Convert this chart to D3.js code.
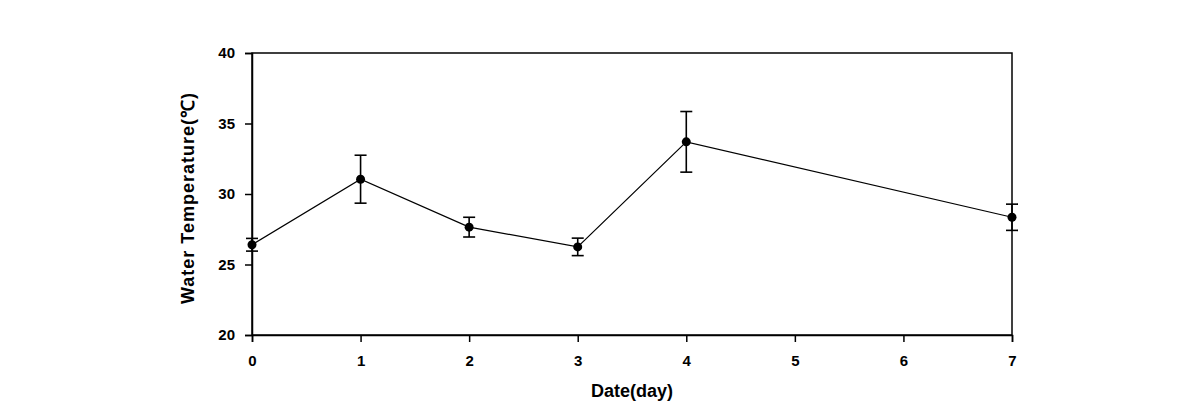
<!DOCTYPE html>
<html><head><meta charset="utf-8">
<script src="https://cdn.jsdelivr.net/npm/d3@7"></script>
<style>body{margin:0;background:#fff;}svg text{font-family:"Liberation Sans",Arial,sans-serif;}</style>
</head><body>
<svg id="c" width="1190" height="420"></svg>
<script>
const days = [0, 1, 2, 3, 4, 7];
const temps = [26.4, 31.05, 27.65, 26.25, 33.7, 28.35];
const errs = [0.45, 1.7, 0.7, 0.62, 2.15, 0.93];
const xTicks = [0, 1, 2, 3, 4, 5, 6, 7];
const yTicks = [20, 25, 30, 35, 40];

const svg = d3.select("#c");
const m = {l: 252, r: 1012, t: 53, b: 335};
const x = d3.scaleLinear().domain([0, 7]).range([m.l, m.r]);
const y = d3.scaleLinear().domain([20, 40]).range([m.b, m.t]);

svg.append("rect").attr("x", m.l).attr("y", m.t).attr("width", m.r - m.l).attr("height", m.b - m.t)
  .attr("fill", "none").attr("stroke", "#000").attr("stroke-width", 1.5);

const xa = svg.append("g").attr("transform", `translate(0,${m.b})`)
  .call(d3.axisBottom(x).tickValues(xTicks).tickSize(7).tickPadding(13).tickFormat(d3.format("d")));
const ya = svg.append("g").attr("transform", `translate(${m.l},0)`)
  .call(d3.axisLeft(y).tickValues(yTicks).tickSize(7).tickPadding(10).tickFormat(d3.format("d")));
[xa, ya].forEach(a => {
  a.select(".domain").attr("stroke-width", 1.5);
  a.selectAll(".tick line").attr("stroke-width", 1.5);
  a.selectAll("text").attr("font-size", 15).attr("font-weight", "bold").attr("fill", "#000")
    .attr("font-family", "'Liberation Sans', Arial, sans-serif");
});

const data = days.map((d, i) => ({d, v: temps[i], e: errs[i]}));

svg.append("path").datum(data)
  .attr("d", d3.line().x(p => x(p.d)).y(p => y(p.v)))
  .attr("fill", "none").attr("stroke", "#000").attr("stroke-width", 1.2);

const eb = svg.append("g").attr("stroke", "#000").attr("stroke-width", 1.6);
data.forEach(p => {
  eb.append("line").attr("x1", x(p.d)).attr("x2", x(p.d)).attr("y1", y(p.v + p.e)).attr("y2", y(p.v - p.e));
  [p.v + p.e, p.v - p.e].forEach(v => {
    eb.append("line").attr("x1", x(p.d) - 6).attr("x2", x(p.d) + 6).attr("y1", y(v)).attr("y2", y(v));
  });
});

svg.append("g").selectAll("circle").data(data).join("circle")
  .attr("cx", p => x(p.d)).attr("cy", p => y(p.v)).attr("r", 4.5).attr("fill", "#000");

svg.append("text").attr("x", (m.l + m.r) / 2).attr("y", 397).attr("text-anchor", "middle")
  .attr("font-size", 18).attr("font-weight", "bold").text("Date(day)");
svg.append("text").attr("transform", `translate(194,${(m.t + m.b) / 2 + 4}) rotate(-90)`)
  .attr("text-anchor", "middle").attr("font-size", 18).attr("font-weight", "bold")
  .attr("letter-spacing", 1)
  .text("Water Temperature(℃)");
</script>
</body></html>
